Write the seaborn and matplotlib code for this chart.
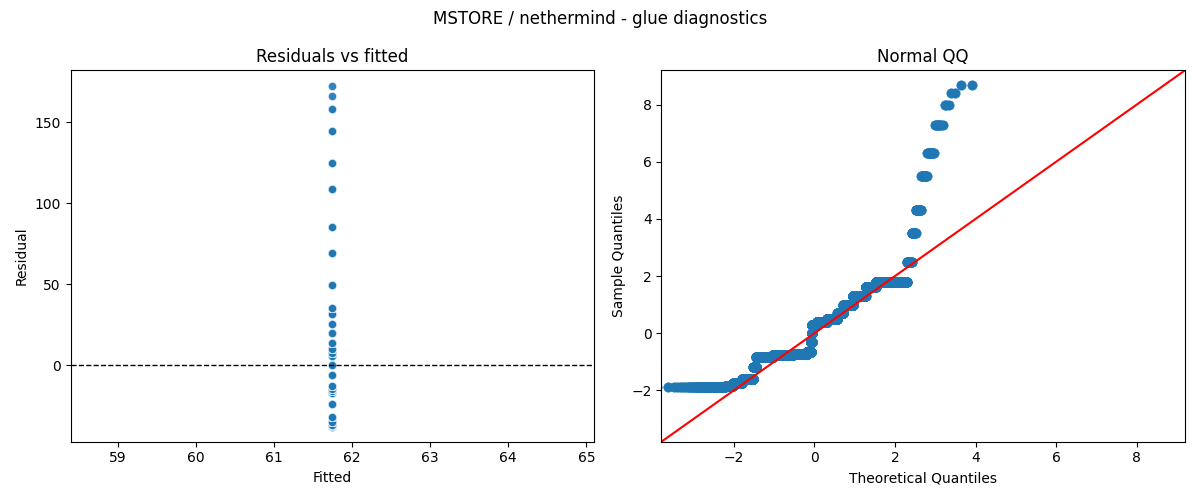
import matplotlib
matplotlib.use("Agg")
import matplotlib.pyplot as plt
import seaborn as sns
import numpy as np
import pandas as pd
from statistics import NormalDist

# Standardized residual levels and how many observations sit at each level
levels = [-1.90, -1.87, -1.84, -1.75, -1.60, -1.20, -0.85, -0.78, -0.72, -0.65, -0.30,
          0.00, 0.30, 0.40, 0.50, 0.70, 1.00, 1.30, 1.60, 1.80,
          2.50, 3.50, 4.30, 5.50, 6.30, 7.30, 8.00, 8.40, 8.70]
counts = [40, 100, 88, 150, 300, 100, 800, 1500, 1372, 400, 100,
          50, 500, 1000, 1000, 500, 700, 700, 400, 560,
          30, 20, 20, 15, 12, 8, 3, 2, 2]
resid_std = 19.8
fitted_value = 61.75

z = np.repeat(levels, counts)
n = len(z)
nd = NormalDist()
theo = np.array([nd.inv_cdf((i + 0.5) / n) for i in range(n)])
resid = z * resid_std

fig, axes = plt.subplots(1, 2, figsize=(12, 5), dpi=100)
fig.suptitle("MSTORE / nethermind - glue diagnostics")

ax = axes[0]
df = pd.DataFrame({"Fitted": np.full(n, fitted_value), "Residual": resid})
sns.scatterplot(data=df, x="Fitted", y="Residual", ax=ax, alpha=0.7, s=35)
ax.axhline(0, color="black", linestyle="--", linewidth=1)
ax.set_xlim(58.4, 65.1)
ax.set_ylim(-47, 182)
ax.set_title("Residuals vs fitted")

ax = axes[1]
qq = pd.DataFrame({"t": theo, "s": z})
sns.scatterplot(data=qq, x="t", y="s", ax=ax, s=45, color="C0", edgecolor="C0", linewidth=0.5)
lim = (-3.8, 9.2)
ax.plot(lim, lim, color="red")
ax.set_xlim(lim)
ax.set_ylim(lim)
ax.set_xlabel("Theoretical Quantiles")
ax.set_ylabel("Sample Quantiles")
ax.set_title("Normal QQ")

fig.tight_layout()
fig.savefig("out.png")
